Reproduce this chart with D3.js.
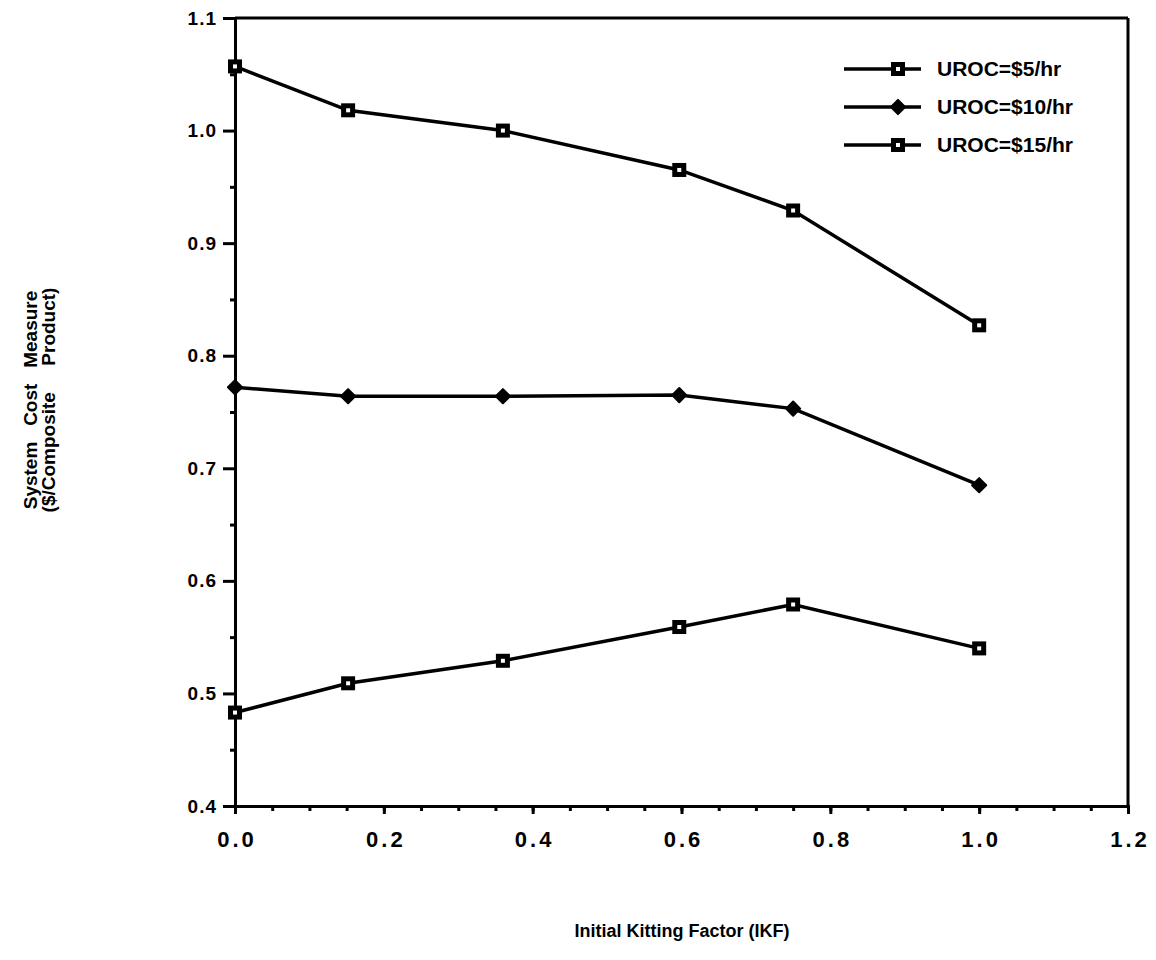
<!DOCTYPE html>
<html>
<head>
<meta charset="utf-8">
<script src="https://cdn.jsdelivr.net/npm/d3@7"></script>
<style>
  body { margin: 0; background: #fff; }
  svg text { font-family: "Liberation Sans", Arial, sans-serif; font-weight: bold; fill: #000; }
</style>
</head>
<body>
<div id="chart"></div>
<script>
// IKF values on the x axis
var ikf = [0.0, 0.152, 0.36, 0.597, 0.75, 1.0];
// System cost per series
var uroc5 = [0.483, 0.509, 0.529, 0.559, 0.579, 0.540];
var uroc10 = [0.772, 0.764, 0.764, 0.765, 0.753, 0.685];
var uroc15 = [1.057, 1.018, 1.000, 0.965, 0.929, 0.827];
var seriesNames = ["UROC=$5/hr", "UROC=$10/hr", "UROC=$15/hr"];
var xTicks = [0.0, 0.2, 0.4, 0.6, 0.8, 1.0, 1.2];
var yTicks = [0.4, 0.5, 0.6, 0.7, 0.8, 0.9, 1.0, 1.1];

var width = 1156, height = 960;
var margin = {left: 235, right: 28, top: 18, bottom: 154};

var svg = d3.select("#chart").append("svg")
    .attr("width", width)
    .attr("height", height);

var x = d3.scaleLinear().domain([0, 1.2]).range([margin.left, width - margin.right]);
var y = d3.scaleLinear().domain([0.4, 1.1]).range([height - margin.bottom, margin.top]);

// frame top and right
svg.append("line")
    .attr("x1", x(0)).attr("x2", x(1.2)).attr("y1", y(1.1)).attr("y2", y(1.1))
    .attr("stroke", "#000").attr("stroke-width", 3);
svg.append("line")
    .attr("x1", x(1.2)).attr("x2", x(1.2)).attr("y1", y(1.1)).attr("y2", y(0.4))
    .attr("stroke", "#000").attr("stroke-width", 3);

// minor ticks every 0.05
var xMinor = d3.range(0, 1.2001, 0.05);
var yMinor = d3.range(0.45, 1.1, 0.1);

var xAxis = svg.append("g")
    .attr("transform", "translate(0," + y(0.4) + ")")
    .call(d3.axisBottom(x).tickValues(xTicks).tickFormat(d3.format(".1f")).tickSize(8).tickPadding(17));
svg.append("g")
    .attr("transform", "translate(0," + y(0.4) + ")")
    .call(d3.axisBottom(x).tickValues(xMinor).tickFormat("").tickSize(5));

var yAxis = svg.append("g")
    .attr("transform", "translate(" + x(0) + ",0)")
    .call(d3.axisLeft(y).tickValues(yTicks).tickFormat(d3.format(".1f")).tickSize(12).tickPadding(6));
svg.append("g")
    .attr("transform", "translate(" + x(0) + ",0)")
    .call(d3.axisLeft(y).tickValues(yMinor).tickFormat("").tickSize(5));

svg.selectAll(".domain").attr("stroke", "#000").attr("stroke-width", 3);
svg.selectAll(".tick line").attr("stroke", "#000").attr("stroke-width", 3);

xAxis.selectAll("text")
    .style("font-size", "22px")
    .style("letter-spacing", "3px")
    .attr("dx", "1.5px");
yAxis.selectAll("text")
    .style("font-size", "19px")
    .style("letter-spacing", "1px");

// data lines
var line = d3.line()
    .x(function(d) { return x(d[0]); })
    .y(function(d) { return y(d[1]); });

var allSeries = [uroc5, uroc10, uroc15];
var markerType = ["square", "diamond", "square"];

function drawMarker(g, type, cx, cy) {
    if (type == "square") {
        g.append("rect")
            .attr("x", cx - 7).attr("y", cy - 7)
            .attr("width", 14).attr("height", 14)
            .attr("fill", "#000");
        g.append("rect")
            .attr("x", cx - 2).attr("y", cy - 2)
            .attr("width", 4).attr("height", 4)
            .attr("fill", "#fff");
    } else {
        g.append("path")
            .attr("d", d3.symbol().type(d3.symbolSquare).size(100)())
            .attr("transform", "translate(" + cx + "," + cy + ") rotate(45)")
            .attr("fill", "#000")
            .attr("stroke", "#000")
            .attr("stroke-width", 2)
            .attr("stroke-linejoin", "round");
    }
}

for (var s = 0; s < allSeries.length; s++) {
    var pts = [];
    for (var i = 0; i < ikf.length; i++) {
        pts.push([ikf[i], allSeries[s][i]]);
    }
    svg.append("path")
        .datum(pts)
        .attr("d", line)
        .attr("fill", "none")
        .attr("stroke", "#000")
        .attr("stroke-width", 3.5);
    var mg = svg.append("g");
    for (var i = 0; i < pts.length; i++) {
        drawMarker(mg, markerType[s], x(pts[i][0]), y(pts[i][1]));
    }
}

// legend
var legend = svg.append("g");
for (var s = 0; s < seriesNames.length; s++) {
    var ly = 69 + s * 38;
    legend.append("line")
        .attr("x1", 844).attr("x2", 921).attr("y1", ly).attr("y2", ly)
        .attr("stroke", "#000").attr("stroke-width", 3.5);
    drawMarker(legend, markerType[s], 898, ly);
    legend.append("text")
        .attr("x", 937).attr("y", ly + 7)
        .style("font-size", "21px")
        .text(seriesNames[s]);
}

// axis titles
svg.append("text")
    .attr("x", 682).attr("y", 937)
    .attr("text-anchor", "middle")
    .style("font-size", "18px")
    .text("Initial Kitting Factor (IKF)");

svg.append("text")
    .attr("transform", "translate(37,400) rotate(-90)")
    .attr("text-anchor", "middle")
    .style("font-size", "19px")
    .style("white-space", "pre")
    .attr("xml:space", "preserve")
    .text("System   Cost   Measure");
svg.append("text")
    .attr("transform", "translate(55,400) rotate(-90)")
    .attr("text-anchor", "middle")
    .style("font-size", "19px")
    .style("white-space", "pre")
    .attr("xml:space", "preserve")
    .text("($/Composite     Product)");
</script>
</body>
</html>
